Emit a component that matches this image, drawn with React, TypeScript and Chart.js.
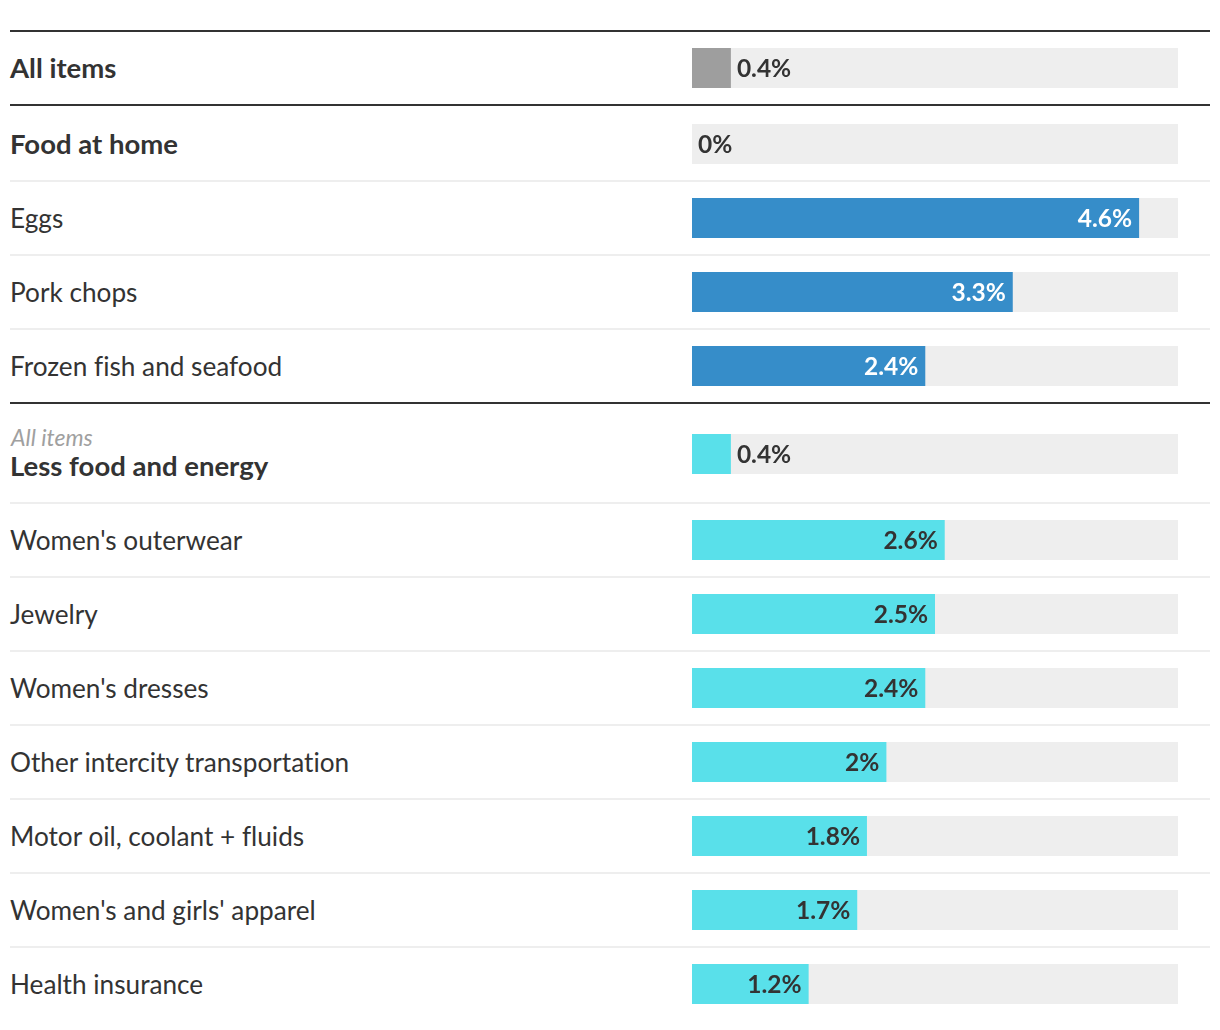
import React, { useEffect, useRef } from "react";
import { Chart, registerables } from "chart.js";

Chart.register(...registerables);

// ---- data ----
const categories: string[] = [
  "All items",
  "Food at home",
  "Eggs",
  "Pork chops",
  "Frozen fish and seafood",
  "Less food and energy",
  "Women's outerwear",
  "Jewelry",
  "Women's dresses",
  "Other intercity transportation",
  "Motor oil, coolant + fluids",
  "Women's and girls' apparel",
  "Health insurance",
];
const values: number[] = [0.4, 0, 4.6, 3.3, 2.4, 0.4, 2.6, 2.5, 2.4, 2, 1.8, 1.7, 1.2];
const groups: string[] = ["all", "food", "food", "food", "food", "core", "core", "core", "core", "core", "core", "core", "core"];
const headerRows: boolean[] = [true, true, false, false, false, true, false, false, false, false, false, false, false];
const subLabels: string[] = ["", "", "", "", "", "All items", "", "", "", "", "", "", ""];
const axisMin = 0;
const axisMax = 5;

// ---- styles ----
const FONT = "Lato, 'Open Sans', sans-serif";
const TEXT = "#333333";
const TRACK = "#eeeeee";
const groupColor: Record<string, string> = { all: "#9e9e9e", food: "#368dc9", core: "#59e0ea" };
const groupLabelColor: Record<string, string> = { all: TEXT, food: "#ffffff", core: TEXT };

const BAR_W = 486;
const BAR_H = 40;

const valueLabelPlugin = {
  id: "valueLabel",
  afterDatasetsDraw(chart: any) {
    const meta = chart.getDatasetMeta(0);
    const el = meta.data[0];
    if (!el) return;
    const v = chart.data.datasets[0].data[0] as number;
    const inside = (chart.options.plugins as any).valueLabel.insideColor;
    const ctx = chart.ctx;
    ctx.save();
    ctx.font = `700 24.5px ${FONT}`;
    ctx.textBaseline = "middle";
    const txt = `${v}%`;
    const tw = ctx.measureText(txt).width;
    const left = chart.chartArea.left;
    const barW = el.x - left;
    const y = el.y + 1;
    if (tw + 14 <= barW) {
      ctx.textAlign = "right";
      ctx.fillStyle = inside;
      ctx.fillText(txt, el.x - 7, y);
    } else {
      ctx.textAlign = "left";
      ctx.fillStyle = TEXT;
      ctx.fillText(txt, el.x + 6, y);
    }
    ctx.restore();
  },
};

function BarCell({ label, value, color, insideColor }: { label: string; value: number; color: string; insideColor: string }) {
  const ref = useRef<HTMLCanvasElement>(null);
  useEffect(() => {
    if (!ref.current) return;
    const chart = new Chart(ref.current, {
      type: "bar",
      data: {
        labels: [label],
        datasets: [
          { data: [value], backgroundColor: color, grouped: false, barPercentage: 1, categoryPercentage: 1, borderWidth: 0, inflateAmount: 0 } as any,
          { data: [axisMax], backgroundColor: TRACK, grouped: false, barPercentage: 1, categoryPercentage: 1, borderWidth: 0, inflateAmount: 0 } as any,
        ],
      },
      options: {
        indexAxis: "y",
        animation: false,
        responsive: false,
        maintainAspectRatio: false,
        devicePixelRatio: 1,
        layout: { padding: 0 },
        scales: {
          x: { min: axisMin, max: axisMax, display: false },
          y: { display: false },
        },
        plugins: {
          legend: { display: false },
          tooltip: { enabled: false },
          valueLabel: { insideColor },
        } as any,
      },
      plugins: [valueLabelPlugin],
    });
    return () => chart.destroy();
  }, [label, value, color, insideColor]);
  return <canvas ref={ref} width={BAR_W} height={BAR_H} style={{ width: BAR_W, height: BAR_H, display: "block" }} />;
}

export default function App() {
  const n = categories.length;
  return (
    <div style={{ marginLeft: 2, marginTop: 22, width: 1200, fontFamily: FONT, color: TEXT, fontVariantLigatures: "none" }}>
      <div style={{ borderTop: `2px solid ${TEXT}` }} />
      {categories.map((cat, i) => {
        const isLast = i === n - 1;
        const nextGroupDiffers = !isLast && groups[i + 1] !== groups[i];
        const border = isLast ? "none" : nextGroupDiffers ? `2px solid ${TEXT}` : `2px solid ${TRACK}`;
        const hasSub = subLabels[i] !== "";
        let padTop = 16;
        let padBottom = 16;
        if (i === 1) { padTop = 18; padBottom = 16; }
        if (hasSub) { padTop = 30; padBottom = 28; }
        const bold = headerRows[i];
        return (
          <div
            key={cat}
            style={{
              display: "flex",
              alignItems: "center",
              paddingTop: padTop,
              paddingBottom: padBottom,
              borderBottom: border,
              boxSizing: "content-box",
            }}
          >
            <div style={{ width: 682, height: BAR_H, position: "relative" }}>
              {hasSub ? (
                <div style={{ position: "absolute", left: 1, top: -10, height: 26, lineHeight: "26px", fontSize: 23, fontStyle: "italic", fontWeight: 400, color: "#a0a0a0", whiteSpace: "nowrap" }}>
                  {subLabels[i]}
                </div>
              ) : null}
              <div
                style={{
                  position: "absolute",
                  left: 0,
                  top: hasSub ? 12 : 0,
                  height: BAR_H,
                  lineHeight: `${BAR_H}px`,
                  fontSize: bold ? 27.5 : 26.2,
                  fontWeight: bold ? 700 : 400,
                  whiteSpace: "nowrap",
                }}
              >
                {cat}
              </div>
            </div>
            <BarCell label={cat} value={values[i]} color={groupColor[groups[i]]} insideColor={groupLabelColor[groups[i]]} />
          </div>
        );
      })}
    </div>
  );
}
